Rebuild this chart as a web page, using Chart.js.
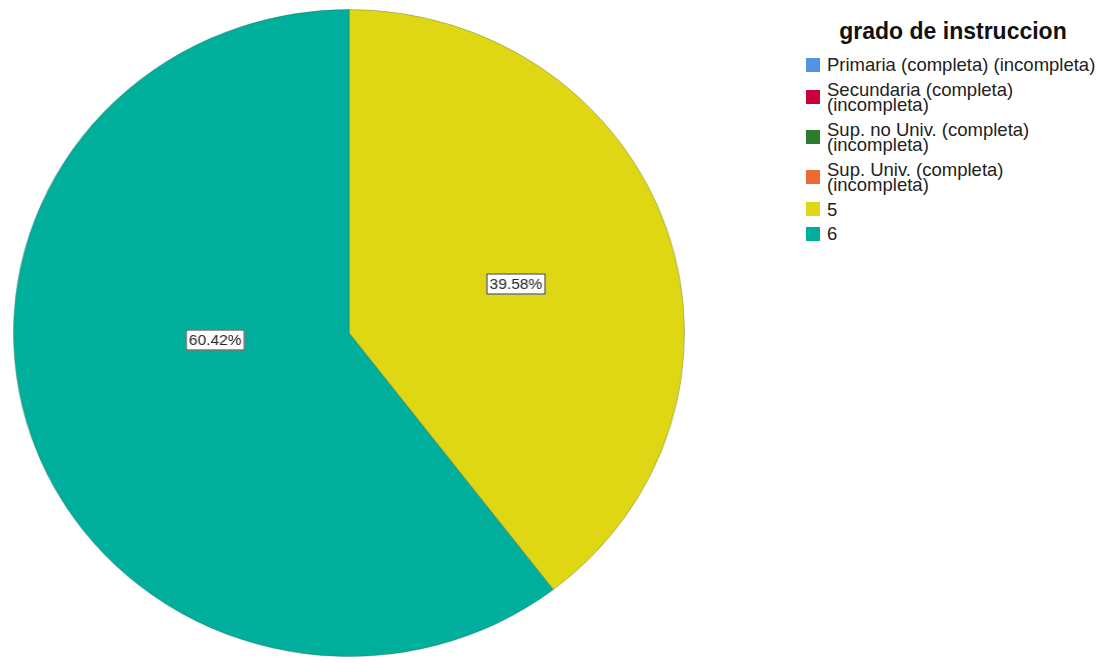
<!DOCTYPE html>
<html>
<head>
<meta charset="utf-8">
<script src="https://cdn.jsdelivr.net/npm/chart.js@4.4.0/dist/chart.umd.min.js"></script>
<style>
  body {
    margin: 0;
    background: #fff;
    width: 1114px;
    height: 664px;
    overflow: hidden;
    position: relative;
    font-family: "Liberation Sans", Arial, sans-serif;
  }
  #pieBox {
    position: absolute;
    left: 25px;
    top: 9px;
    width: 648px;
    height: 648px;
    transform: scaleX(1.037);
    transform-origin: 50% 50%;
  }
  #legend {
    position: absolute;
    left: 806px;
    top: 18px;
    width: 294px;
    color: #222;
  }
  #legend .title {
    font-size: 23px;
    font-weight: bold;
    line-height: 26px;
    text-align: center;
    color: #111;
    margin-bottom: 13px;
  }
  #legend .item {
    display: flex;
    align-items: center;
    margin-bottom: 9px;
  }
  #legend .swatch {
    width: 14px;
    height: 14px;
    flex: none;
    margin-right: 7px;
  }
  #legend .text {
    font-size: 18.5px;
    line-height: 15.5px;
  }
</style>
</head>
<body>
<div id="pieBox"><canvas id="pieChart"></canvas></div>
<div id="legend"></div>

<script>
const legendTitle = "grado de instruccion";
const categories = [
    "Primaria (completa) (incompleta)",
    "Secundaria (completa) (incompleta)",
    "Sup. no Univ. (completa) (incompleta)",
    "Sup. Univ. (completa) (incompleta)",
    "5",
    "6"
];
const counts = [0, 0, 0, 0, 19, 29];
const colors = ["#5294e2", "#c8003c", "#2e7b2e", "#ec6a35", "#dfd714", "#00af9b"];

// legend on the right, built from the same arrays
const legend = document.getElementById("legend");
legend.innerHTML = `<div class="title">${legendTitle}</div>` +
    categories.map((c, i) =>
        `<div class="item"><span class="swatch" style="background:${colors[i]}"></span><span class="text">${c}</span></div>`
    ).join("");

// boxed percentage labels inside each slice
const sliceLabels = {
    id: "sliceLabels",
    afterDatasetsDraw(chart, args, opts) {
        const ctx = chart.ctx;
        const meta = chart.getDatasetMeta(0);
        const vals = chart.data.datasets[0].data;
        const total = vals.reduce((a, b) => a + b, 0);
        ctx.save();
        ctx.font = opts.font;
        ctx.textAlign = "center";
        ctx.textBaseline = "middle";
        meta.data.forEach((arc, i) => {
            if (!vals[i]) return;
            const spot = opts.spots[i] || {};
            const ang = spot.angle != null
                ? spot.angle * Math.PI / 180 - Math.PI / 2
                : (arc.startAngle + arc.endAngle) / 2;
            const r = arc.outerRadius * (spot.r != null ? spot.r : 0.52);
            const x = Math.round(arc.x + Math.cos(ang) * r);
            const y = Math.round(arc.y + Math.sin(ang) * r);
            const text = (vals[i] / total * 100).toFixed(2) + "%";
            const w = Math.round(ctx.measureText(text).width) + 6;
            const h = 21;
            ctx.fillStyle = "#fff";
            ctx.fillRect(x - w / 2, y - h / 2, w, h);
            ctx.strokeStyle = "#333";
            ctx.lineWidth = 1;
            ctx.strokeRect(x - w / 2 + 0.5, y - h / 2 + 0.5, w - 1, h - 1);
            ctx.fillStyle = "#222";
            ctx.fillText(text, x, y + 1);
        });
        ctx.restore();
    }
};

new Chart(document.getElementById("pieChart").getContext("2d"), {
    type: "pie",
    data: {
        labels: categories,
        datasets: [{
            data: counts,
            backgroundColor: colors,
            borderColor: "rgba(30,70,60,0.3)",
            borderWidth: 1,
            hoverOffset: 0
        }]
    },
    options: {
        responsive: true,
        maintainAspectRatio: false,
        animation: false,
        layout: { padding: 0 },
        plugins: {
            legend: { display: false },
            tooltip: { enabled: false },
            sliceLabels: {
                font: "15px 'Liberation Sans', Arial, sans-serif",
                spots: {
                    4: { angle: 73, r: 0.52 },
                    5: { angle: 267, r: 0.40 }
                }
            }
        }
    },
    plugins: [sliceLabels]
});
</script>
</body>
</html>
